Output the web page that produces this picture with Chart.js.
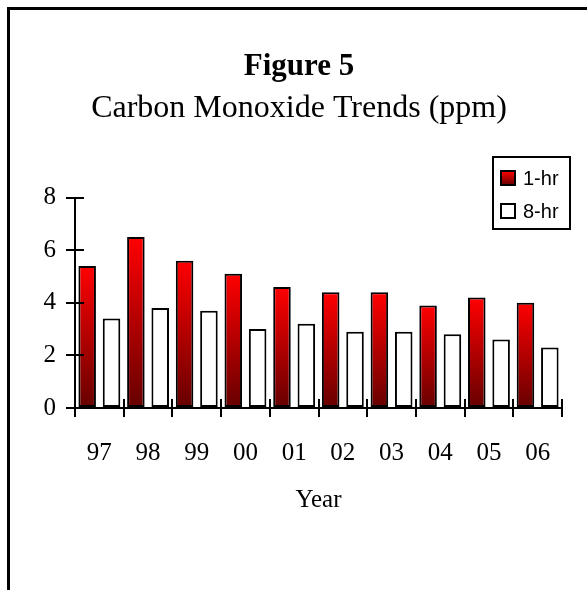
<!DOCTYPE html>
<html>
<head>
<meta charset="utf-8">
<script src="https://cdn.jsdelivr.net/npm/chart.js@4/dist/chart.umd.min.js"></script>
<style>
  html, body { margin: 0; padding: 0; background: #ffffff; }
  #wrap { position: relative; width: 587px; height: 590px; }
</style>
</head>
<body>
<div id="wrap"><canvas id="c" width="587" height="590"></canvas></div>
<script>
// ---- data ----
const years = ['97', '98', '99', '00', '01', '02', '03', '04', '05', '06'];
const oneHour = [5.4, 6.5, 5.6, 5.1, 4.6, 4.4, 4.4, 3.9, 4.2, 4.0];
const eightHour = [3.4, 3.8, 3.7, 3.0, 3.2, 2.9, 2.9, 2.8, 2.6, 2.3];
const seriesNames = ['1-hr', '8-hr'];
const yTicks = [0, 2, 4, 6, 8];
const titleText = 'Figure 5';
const subtitleText = 'Carbon Monoxide Trends (ppm)';
const xTitle = 'Year';

const SERIF = '"Liberation Serif", "Times New Roman", Times, serif';
const SANS = '"Liberation Sans", Arial, Helvetica, sans-serif';

function redGradient(ctx, top, bottom) {
  const g = ctx.createLinearGradient(0, top, 0, bottom);
  g.addColorStop(0, '#ff0000');
  g.addColorStop(1, '#660000');
  return g;
}

function barGradient(context) {
  const chart = context.chart;
  const y = chart.scales.y;
  if (!y || context.parsed === undefined || context.parsed === null) return '#cc0000';
  const top = y.getPixelForValue(context.parsed.y);
  const base = y.getPixelForValue(0);
  if (!isFinite(top) || !isFinite(base) || top === base) return '#cc0000';
  return redGradient(chart.ctx, top, base);
}

// frame + inner tick halves + boxed legend
const decor = {
  id: 'decor',
  beforeDraw(chart) {
    const ctx = chart.ctx;
    ctx.save();
    ctx.fillStyle = '#ffffff';
    ctx.fillRect(0, 0, chart.width, chart.height);
    ctx.fillStyle = '#000000';
    ctx.fillRect(7, 7, chart.width - 7, 3);
    ctx.fillRect(7, 7, 3, chart.height - 7);
    ctx.restore();
  },
  afterDraw(chart) {
    const ctx = chart.ctx;
    const xs = chart.scales.x, ys = chart.scales.y;
    const area = chart.chartArea;
    ctx.save();
    ctx.strokeStyle = '#000';
    ctx.lineWidth = 2;
    // inner halves of y ticks
    ys.ticks.forEach((t, i) => {
      const py = Math.round(ys.getPixelForTick(i));
      ctx.beginPath();
      ctx.moveTo(area.left, py);
      ctx.lineTo(area.left + 9, py);
      ctx.stroke();
    });
    // inner halves of x ticks (category boundaries)
    const n = xs.ticks.length;
    for (let i = 0; i <= n; i++) {
      const px = Math.round(xs.getPixelForValue(i - 0.5));
      ctx.beginPath();
      ctx.moveTo(px, area.bottom);
      ctx.lineTo(px, area.bottom - 9);
      ctx.stroke();
    }
    // legend box
    const bx = 493, by = 157, bw = 77, bh = 72;
    ctx.lineWidth = 2;
    ctx.fillStyle = '#fff';
    ctx.fillRect(bx, by, bw, bh);
    ctx.strokeRect(bx, by, bw, bh);
    ctx.font = '20px ' + SANS;
    ctx.textBaseline = 'middle';
    ctx.textAlign = 'left';
    chart.data.datasets.forEach((ds, i) => {
      const cy = by + 21 + i * 33;
      const sx = bx + 8, sy = cy - 7, ss = 14;
      ctx.fillStyle = i === 0 ? redGradient(ctx, sy, sy + ss) : '#ffffff';
      ctx.fillRect(sx, sy, ss, ss);
      ctx.strokeStyle = '#000';
      ctx.strokeRect(sx, sy, ss, ss);
      ctx.fillStyle = '#000';
      ctx.fillText(ds.label, bx + 30, cy + 1);
    });
    ctx.restore();
  }
};

new Chart(document.getElementById('c'), {
  type: 'bar',
  data: {
    labels: years,
    datasets: [
      {
        label: seriesNames[0],
        data: oneHour,
        backgroundColor: barGradient,
        borderColor: '#000',
        borderWidth: 2,
        borderSkipped: false,
        categoryPercentage: 1.0,
        barPercentage: 0.72
      },
      {
        label: seriesNames[1],
        data: eightHour,
        backgroundColor: '#ffffff',
        borderColor: '#000',
        borderWidth: 2,
        borderSkipped: false,
        categoryPercentage: 1.0,
        barPercentage: 0.72
      }
    ]
  },
  options: {
    responsive: false,
    animation: false,
    devicePixelRatio: 1,
    layout: { padding: { left: 36, right: 25, top: 48, bottom: 62 } },
    plugins: {
      legend: { display: false },
      tooltip: { enabled: false },
      title: {
        display: true,
        text: titleText,
        color: '#000',
        font: { family: SERIF, size: 31, weight: 'bold', lineHeight: 1.2 },
        padding: { top: 0, bottom: 4 }
      },
      subtitle: {
        display: true,
        text: subtitleText,
        color: '#000',
        font: { family: SERIF, size: 32, weight: 'normal', lineHeight: 1.2 },
        padding: { top: 0, bottom: 70 }
      }
    },
    scales: {
      x: {
        offset: true,
        grid: {
          offset: true,
          drawOnChartArea: false,
          drawTicks: true,
          tickLength: 9,
          color: '#000',
          lineWidth: 2
        },
        border: { display: true, color: '#000', width: 2 },
        ticks: {
          color: '#000',
          font: { family: SERIF, size: 25 },
          padding: 21,
          maxRotation: 0
        },
        title: {
          display: true,
          text: xTitle,
          color: '#000',
          font: { family: SERIF, size: 25, lineHeight: 1.2 },
          padding: { top: 0, bottom: 13 }
        },
        afterFit(s) { s.height = 120; }
      },
      y: {
        min: 0,
        max: 8,
        afterBuildTicks(s) { s.ticks = yTicks.map(v => ({ value: v })); },
        grid: {
          drawOnChartArea: false,
          drawTicks: true,
          tickLength: 9,
          color: '#000',
          lineWidth: 2
        },
        border: { display: true, color: '#000', width: 2 },
        ticks: {
          color: '#000',
          font: { family: SERIF, size: 25 },
          padding: 10
        },
        afterFit(s) { s.width = 39; }
      }
    }
  },
  plugins: [decor]
});
</script>
</body>
</html>
